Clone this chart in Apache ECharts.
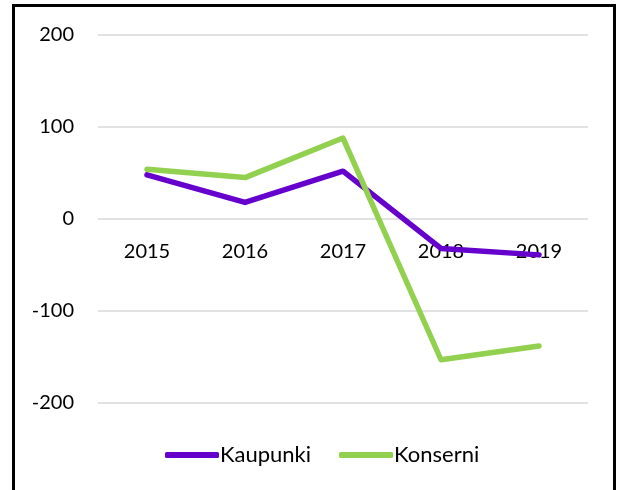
<!DOCTYPE html>
<html>
<head>
<meta charset="utf-8">
<script src="https://cdn.jsdelivr.net/npm/echarts@6/dist/echarts.min.js"></script>
<style>
  html, body { margin: 0; padding: 0; background: #fff; }
  #main { width: 623px; height: 490px; }
</style>
</head>
<body>
<div id="main"></div>
<script>
// vuodet ja arvot
var years = ['2015', '2016', '2017', '2018', '2019'];
var kaupunki = [48, 18, 52, -32, -39];
var konserni = [54, 45, 88, -153, -138];

var chart = echarts.init(document.getElementById('main'));
var font = 'Lato, "Open Sans", sans-serif';

chart.setOption({
    animation: false,
    graphic: [{
        type: 'rect',
        shape: { x: 13.5, y: 5.5, width: 601, height: 500 },
        style: { fill: 'none', stroke: '#000', lineWidth: 3 },
        z: -1
    }],
    grid: { left: 98, right: 35, top: 35, bottom: 87 },
    legend: {
        left: 160,
        top: 439,
        itemWidth: 54,
        itemHeight: 6,
        itemGap: 28,
        icon: 'roundRect',
        textStyle: { fontFamily: font, fontSize: 22, color: '#000', padding: [0, 0, 0, -4] },
        data: ['Kaupunki', 'Konserni']
    },
    xAxis: {
        type: 'category',
        data: years,
        // akseli nollan kohdalle (onZero ei siirrä tekstejä)
        offset: -184,
        axisLine: { show: false, onZero: false },
        axisTick: { show: false },
        axisLabel: { fontFamily: font, fontSize: 20, color: '#000', margin: 23 }
    },
    yAxis: {
        type: 'value',
        min: -200,
        max: 200,
        interval: 100,
        axisLine: { show: false },
        axisTick: { show: false },
        axisLabel: { fontFamily: font, fontSize: 20, color: '#000', margin: 24 },
        splitLine: { lineStyle: { color: '#d9d9d9', width: 1.5 } }
    },
    series: [
        {
            name: 'Kaupunki',
            type: 'line',
            data: kaupunki,
            symbol: 'none',
            color: '#6600cc',
            lineStyle: { width: 5.5, color: '#6600cc', cap: 'round', join: 'round' }
        },
        {
            name: 'Konserni',
            type: 'line',
            data: konserni,
            symbol: 'none',
            color: '#92d050',
            lineStyle: { width: 5.5, color: '#92d050', cap: 'round', join: 'round' }
        }
    ]
});
</script>
</body>
</html>
